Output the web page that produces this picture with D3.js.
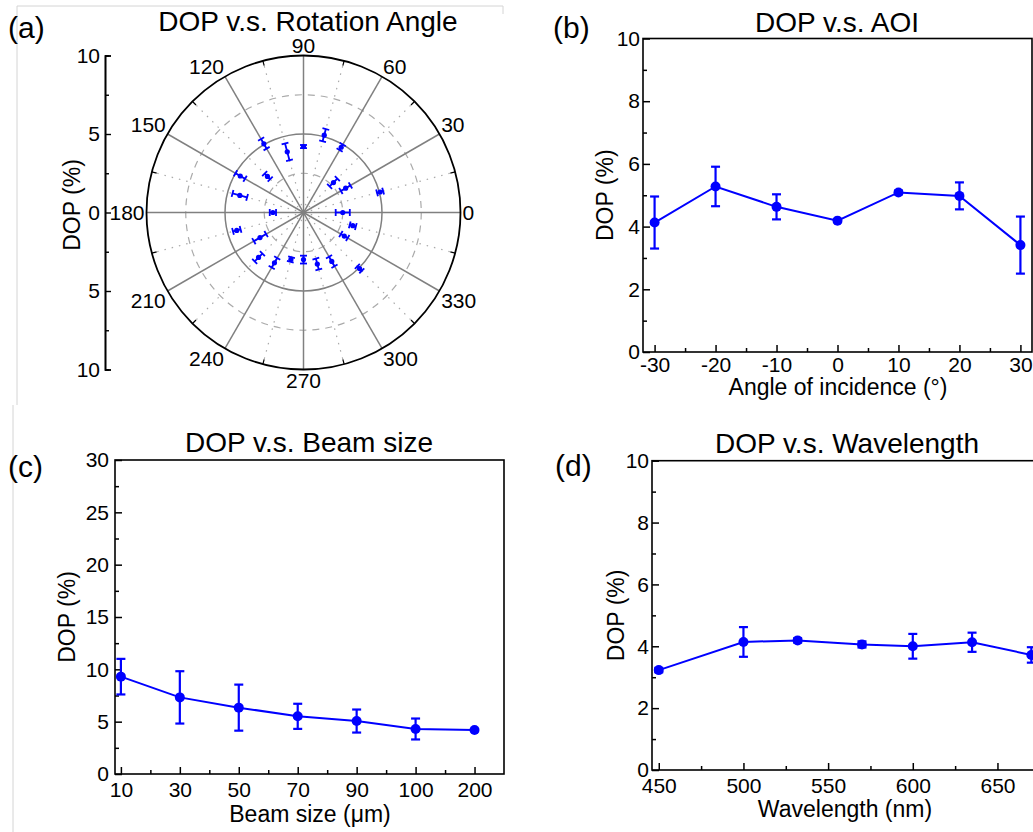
<!DOCTYPE html>
<html>
<head>
<meta charset="utf-8">
<script src="https://cdn.jsdelivr.net/npm/d3@7"></script>
<style>
  body { margin: 0; background: #fff; }
  text { font-family: "Liberation Sans", Arial, sans-serif; fill: #000; }
</style>
</head>
<body>
<script>
// (a) DOP vs rotation angle
const rotAngles = [0, 15, 30, 45, 60, 75, 90, 105, 120, 135, 150, 165,
                   180, 195, 210, 225, 240, 255, 270, 285, 300, 315, 330, 345];
const rotDop = [2.5, 5.05, 3.1, 2.7, 4.8, 5.1, 4.2, 4.0, 5.05, 3.25, 4.65, 4.2,
                1.95, 4.4, 3.2, 4.05, 3.7, 3.1, 3.0, 3.4, 3.6, 5.05, 3.0, 3.25];
const rotErr = [0.45, 0.2, 0.35, 0.35, 0.2, 0.4, 0.1, 0.55, 0.35, 0.25, 0.35, 0.48,
                0.2, 0.25, 0.45, 0.35, 0.35, 0.15, 0.25, 0.36, 0.35, 0.2, 0.25, 0.2];

// (b) DOP vs angle of incidence
const aoi = [-30, -20, -10, 0, 10, 20, 30];
const aoiDop = [4.13, 5.28, 4.63, 4.19, 5.09, 4.98, 3.41];
const aoiErr = [0.83, 0.63, 0.4, 0.05, 0.06, 0.43, 0.91];

// (c) DOP vs beam size (categorical axis)
const beamLabels = ["10", "30", "50", "70", "90", "100", "200"];
const beamDop = [9.3, 7.32, 6.34, 5.51, 5.06, 4.3, 4.2];
const beamErr = [1.7, 2.5, 2.2, 1.2, 1.1, 1.0, 0.1];

// (d) DOP vs wavelength
const wl = [450, 500, 532, 570, 600, 635, 670];
const wlDop = [3.23, 4.14, 4.19, 4.06, 4.0, 4.13, 3.72];
const wlErr = [0.07, 0.48, 0.07, 0.1, 0.4, 0.31, 0.25];

const blue = "#0000ff";

const svg = d3.select("body").append("svg")
    .attr("width", 1033).attr("height", 832)
    .style("background", "#fff");

// faint borders left over from the original figure panels
svg.append("path").attr("d", "M17,405V6H503V14")
    .attr("fill", "none").attr("stroke", "#d4d4d4").attr("stroke-width", 1);
svg.append("line").attr("x1", 13).attr("x2", 13).attr("y1", 405).attr("y2", 832)
    .attr("stroke", "#d4d4d4").attr("stroke-width", 1);

// panel letters
for (const [t, x, y] of [["(a)", 8, 38], ["(b)", 553, 38], ["(c)", 8, 477], ["(d)", 555, 476]]) {
    svg.append("text").attr("x", x).attr("y", y).style("font-size", "30px").text(t);
}

// ---------- (a) polar ----------
const cx = 303.5, cy = 212.5, R = 157;
const r = d3.scaleLinear().domain([0, 10]).range([0, R]);
const rad = (a) => a * Math.PI / 180;
const gp = svg.append("g").attr("transform", `translate(${cx},${cy})`);

for (const v of [2.5, 7.5]) {
    gp.append("circle").attr("r", r(v)).attr("fill", "none")
        .attr("stroke", "#aaa").attr("stroke-width", 1.2).attr("stroke-dasharray", "7,6");
}
for (const a of d3.range(15, 360, 30)) {
    gp.append("line").attr("x1", 0).attr("y1", 0)
        .attr("x2", R * Math.cos(rad(a))).attr("y2", -R * Math.sin(rad(a)))
        .attr("stroke", "#aaa").attr("stroke-width", 1.2).attr("stroke-dasharray", "1.5,6");
}
gp.append("circle").attr("r", r(5)).attr("fill", "none")
    .attr("stroke", "#808080").attr("stroke-width", 1.5);
for (const a of d3.range(0, 360, 30)) {
    gp.append("line").attr("x1", 0).attr("y1", 0)
        .attr("x2", R * Math.cos(rad(a))).attr("y2", -R * Math.sin(rad(a)))
        .attr("stroke", "#808080").attr("stroke-width", 1.5);
}
gp.append("circle").attr("r", R).attr("fill", "none")
    .attr("stroke", "#000").attr("stroke-width", 1.8);
for (const a of d3.range(15, 360, 30)) {
    const c = Math.cos(rad(a)), s = -Math.sin(rad(a));
    gp.append("line").attr("x1", R * c).attr("y1", R * s)
        .attr("x2", (R - 5) * c).attr("y2", (R - 5) * s)
        .attr("stroke", "#000").attr("stroke-width", 1.2);
}
for (const a of d3.range(0, 360, 30)) {
    const c = Math.cos(rad(a)), s = Math.sin(rad(a));
    const px = (R + 2) * c, py = -(R + 2) * s;
    gp.append("text")
        .attr("x", px)
        .attr("y", s > 0.1 ? py - 1 : s < -0.1 ? py + 16 : py + 7.5)
        .attr("text-anchor", c > 0.1 ? "start" : c < -0.1 ? "end" : "middle")
        .style("font-size", "21px")
        .text(a);
}
// data: radial error bars + dots
rotAngles.forEach((a, i) => {
    const c = Math.cos(rad(a)), s = -Math.sin(rad(a));
    const r0 = r(rotDop[i] - rotErr[i]), r1 = r(rotDop[i] + rotErr[i]);
    gp.append("line").attr("x1", r0 * c).attr("y1", r0 * s).attr("x2", r1 * c).attr("y2", r1 * s)
        .attr("stroke", blue).attr("stroke-width", 1.8);
    for (const rr of [r0, r1]) {
        gp.append("line")
            .attr("x1", rr * c - 3.5 * s).attr("y1", rr * s + 3.5 * c)
            .attr("x2", rr * c + 3.5 * s).attr("y2", rr * s - 3.5 * c)
            .attr("stroke", blue).attr("stroke-width", 1.8);
    }
    gp.append("circle").attr("cx", r(rotDop[i]) * c).attr("cy", r(rotDop[i]) * s)
        .attr("r", 2.6).attr("fill", blue);
});

// left linear axis of the polar plot
const ya = d3.scaleLinear().domain([-10, 10]).range([cy + R, cy - R]);
const ga = svg.append("g").attr("transform", "translate(105,0)");
ga.call(d3.axisLeft(ya).tickValues([-10, -5, 0, 5, 10]).tickSize(-6).tickPadding(5)
    .tickFormat((d) => Math.abs(d)));
ga.append("g").call(d3.axisLeft(ya).tickValues([-7.5, -2.5, 2.5, 7.5]).tickSize(-4).tickFormat(""));
ga.selectAll(".domain").attr("stroke-width", 1.6);
ga.selectAll("line").attr("stroke-width", 1.4);
ga.selectAll("text").style("font-size", "21px").style("font-family", null);
svg.append("text").attr("transform", "translate(72,205) rotate(-90)")
    .attr("text-anchor", "middle").attr("dominant-baseline", "central")
    .style("font-size", "23px").text("DOP (%)");
svg.append("text").attr("x", 308).attr("y", 31).attr("text-anchor", "middle")
    .style("font-size", "28px").text("DOP v.s. Rotation Angle");

// ---------- cartesian panels ----------
function panel(o) {
    const x = d3.scaleLinear().domain(o.xDomain).range([o.left, o.right]);
    const y = d3.scaleLinear().domain(o.yDomain).range([o.bottom, o.top]);
    const g = svg.append("g");

    g.append("rect").attr("x", o.left).attr("y", o.top)
        .attr("width", o.right - o.left).attr("height", o.bottom - o.top)
        .attr("fill", "none").attr("stroke", "#000").attr("stroke-width", 1.6);

    const gx = g.append("g").attr("transform", `translate(0,${o.bottom})`);
    gx.call(d3.axisBottom(x).tickValues(o.xMajor).tickSize(-7).tickPadding(o.xPad)
        .tickFormat(o.xFormat || ((d) => d)));
    gx.append("g").call(d3.axisBottom(x).tickValues(o.xMinor).tickSize(-4).tickFormat(""));

    const gy = g.append("g").attr("transform", `translate(${o.left},0)`);
    gy.call(d3.axisLeft(y).tickValues(o.yMajor).tickSize(-7).tickPadding(o.yPad));
    gy.append("g").call(d3.axisLeft(y).tickValues(o.yMinor).tickSize(-4).tickFormat(""));

    for (const a of [gx, gy]) {
        a.selectAll(".domain").remove();
        a.selectAll("line").attr("stroke-width", 1.5);
        a.selectAll("text").style("font-size", "21px").style("font-family", null);
    }

    const pts = o.xs.map((d, i) => [x(d), y(o.ys[i]), y(o.ys[i] + o.errs[i]), y(o.ys[i] - o.errs[i])]);
    g.append("path").attr("d", d3.line()(pts.map((p) => [p[0], p[1]])))
        .attr("fill", "none").attr("stroke", blue).attr("stroke-width", 2);
    for (const p of pts) {
        g.append("line").attr("x1", p[0]).attr("x2", p[0]).attr("y1", p[2]).attr("y2", p[3])
            .attr("stroke", blue).attr("stroke-width", 2.2);
        for (const yy of [p[2], p[3]]) {
            g.append("line").attr("x1", p[0] - 4.5).attr("x2", p[0] + 4.5).attr("y1", yy).attr("y2", yy)
                .attr("stroke", blue).attr("stroke-width", 2.2);
        }
        g.append("circle").attr("cx", p[0]).attr("cy", p[1]).attr("r", 5).attr("fill", blue);
    }

    g.append("text").attr("x", o.titleX).attr("y", o.titleY).attr("text-anchor", "middle")
        .style("font-size", "28px").text(o.title);
    g.append("text").attr("x", o.xLabelX).attr("y", o.xLabelY).attr("text-anchor", "middle")
        .style("font-size", "23px").text(o.xLabel);
    g.append("text").attr("transform", `translate(${o.yLabelX},${(o.top + o.bottom) / 2}) rotate(-90)`)
        .attr("text-anchor", "middle").attr("dominant-baseline", "central")
        .style("font-size", "23px").text("DOP (%)");
}

panel({
    left: 643, right: 1032, top: 38.5, bottom: 352,
    xDomain: [-31.9, 31.9], yDomain: [0, 10],
    xMajor: [-30, -20, -10, 0, 10, 20, 30], xMinor: [-25, -15, -5, 5, 15, 25],
    yMajor: [0, 2, 4, 6, 8, 10], yMinor: [1, 3, 5, 7, 9],
    xPad: 5, yPad: 3,
    xs: aoi, ys: aoiDop, errs: aoiErr,
    title: "DOP v.s. AOI", titleX: 837, titleY: 32,
    xLabel: "Angle of incidence (°)", xLabelX: 838, xLabelY: 395,
    yLabelX: 605
});

panel({
    left: 115, right: 504, top: 460, bottom: 774,
    xDomain: [-0.1, 6.5], yDomain: [0, 30],
    xMajor: [0, 1, 2, 3, 4, 5, 6], xMinor: [0.5, 1.5, 2.5, 3.5, 4.5, 5.5],
    xFormat: (d) => beamLabels[d],
    yMajor: [0, 5, 10, 15, 20, 25, 30], yMinor: [2.5, 7.5, 12.5, 17.5, 22.5, 27.5],
    xPad: 8, yPad: 6,
    xs: beamLabels.map((d, i) => i), ys: beamDop, errs: beamErr,
    title: "DOP v.s. Beam size", titleX: 309, titleY: 452,
    xLabel: "Beam size (μm)", xLabelX: 310, xLabelY: 822,
    yLabelX: 67
});

panel({
    left: 652, right: 1042, top: 460.7, bottom: 770,
    xDomain: [446, 676.3], yDomain: [0, 10],
    xMajor: [450, 500, 550, 600, 650], xMinor: [475, 525, 575, 625, 675],
    yMajor: [0, 2, 4, 6, 8, 10], yMinor: [1, 3, 5, 7, 9],
    xPad: 8, yPad: 3,
    xs: wl, ys: wlDop, errs: wlErr,
    title: "DOP v.s. Wavelength", titleX: 847, titleY: 453,
    xLabel: "Wavelength (nm)", xLabelX: 845, xLabelY: 817,
    yLabelX: 616
});
</script>
</body>
</html>
